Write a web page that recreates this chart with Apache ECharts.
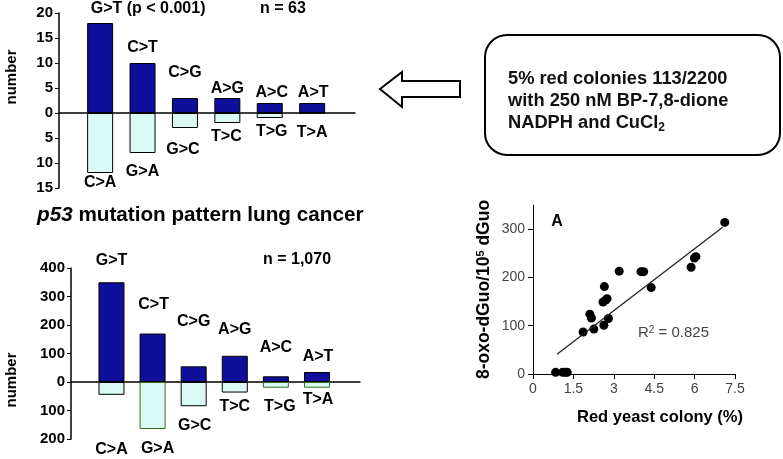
<!DOCTYPE html>
<html><head><meta charset="utf-8">
<script src="https://cdn.jsdelivr.net/npm/echarts@6/dist/echarts.min.js"></script>
<style>html,body{margin:0;padding:0;background:#fff}#c{width:783px;height:459px}</style>
</head><body><div id="c"></div>
<script>
// ---- Yeast mutation pattern (top left) ----
const yeastUpperCats = ['G>T', 'C>T', 'C>G', 'A>G', 'A>C', 'A>T'];
const yeastUpperVals = [18, 10, 3, 3, 2, 2];
const yeastLowerCats = ['C>A', 'G>A', 'G>C', 'T>C', 'T>G', 'T>A'];
const yeastLowerVals = [12, 8, 3, 2, 1, 0];
const yeastPNote = ' (p < 0.001)';
const yeastN = 'n = 63';
// ---- p53 lung cancer pattern (bottom left) ----
const lungUpperCats = ['G>T', 'C>T', 'C>G', 'A>G', 'A>C', 'A>T'];
const lungUpperVals = [350, 170, 55, 92, 20, 35];
const lungLowerCats = ['C>A', 'G>A', 'G>C', 'T>C', 'T>G', 'T>A'];
const lungLowerVals = [45, 165, 85, 37, 20, 20];
const lungN = 'n = 1,070';
// ---- Scatter: red yeast colony vs 8-oxo-dGuo ----
const colonyPct = [0.84, 1.1, 1.2, 1.27, 1.86, 2.11, 2.17, 2.26, 2.63, 2.65, 2.6, 2.7, 2.75, 2.8, 3.2, 4.01, 4.11, 4.39, 5.87, 5.99, 6.05, 7.12];
const oxoDGuo   = [3.5, 3.5, 3.5, 3.5, 87, 124, 116, 93, 101, 181, 149, 153, 156, 115, 213, 212, 212, 179, 221, 240, 243, 314];
const fitX = [0.89, 7.04];
const fitY = [40.8, 304];
const r2Text = '0.825';
const scatterYTicks = [0, 100, 200, 300];

const FONT = '"Liberation Sans", Arial, sans-serif';
const DARK = '#0f0f9b', LIGHT = '#d9faf4', GREEN = '#2e6b1e';

// label offsets (style)
const yUpOff = [[48, -6], [0, -7], [0, -17], [0, -1], [2, -2], [1, -2]];
const yLoOff = [[0, 2], [0, 11], [-2, 14], [-1, 6], [2, 6], [0, 11]];
const lUpOff = [[0, -14], [1, -21], [0, -37], [0, -18], [0, -21], [1, -7]];
const lLoOff = [[0, 47], [5, 12], [1, 11], [0, 6], [4, 11], [1, 4]];
const lungLowerBorder = ['#000', GREEN, '#000', '#000', GREEN, GREEN];

function upperData(vals, cats, offs, first) {
  return vals.map((v, i) => ({
    value: [i, v],
    label: { offset: offs[i], formatter: i === 0 && first ? cats[i] + first : cats[i] }
  }));
}
function lowerData(vals, cats, offs, borders) {
  return vals.map((v, i) => ({
    value: [i, -v],
    itemStyle: borders ? { borderColor: borders[i] } : undefined,
    label: { offset: offs[i], formatter: cats[i] }
  }));
}
const barLabel = (pos) => ({ show: true, position: pos, distance: 0, color: '#000', fontFamily: FONT, fontWeight: 'bold', fontSize: 16 });
const barYAxisLabel = { color: '#000', fontFamily: FONT, fontWeight: 'bold', fontSize: 15, margin: 6, formatter: v => String(Math.abs(v)) };

const chart = echarts.init(document.getElementById('c'), null, { renderer: 'canvas' });
chart.setOption({
  animation: false,
  backgroundColor: '#fff',
  grid: [
    { left: 59, top: 13, width: 296, height: 175 },
    { left: 71, top: 268, width: 289, height: 171 },
    { left: 533, top: 205, width: 202, height: 169 }
  ],
  xAxis: [
    { type: 'value', gridIndex: 0, min: -0.97, max: 6.01, axisLine: { onZero: true, lineStyle: { color: '#000', width: 1.5 } }, axisTick: { show: false }, axisLabel: { show: false }, splitLine: { show: false } },
    { type: 'value', gridIndex: 1, min: -0.985, max: 6.047, axisLine: { onZero: true, lineStyle: { color: '#000', width: 1.5 } }, axisTick: { show: false }, axisLabel: { show: false }, splitLine: { show: false } },
    { type: 'value', gridIndex: 2, min: 0, max: 7.5, interval: 1.5,
      name: 'Red yeast colony (%)', nameLocation: 'middle', nameGap: 35,
      nameTextStyle: { color: '#000', fontFamily: FONT, fontWeight: 'bold', fontSize: 16.5, padding: [0, 0, 0, 52] },
      axisLine: { onZero: false, lineStyle: { color: '#000', width: 1 } },
      axisTick: { length: 5, lineStyle: { color: '#000' } },
      axisLabel: { color: '#444', fontFamily: FONT, fontSize: 14, margin: 8 },
      splitLine: { show: false } }
  ],
  yAxis: [
    { type: 'value', gridIndex: 0, min: -15, max: 20, interval: 5,
      axisLine: { show: true, onZero: false, lineStyle: { color: '#000', width: 1.5 } },
      axisTick: { show: true, length: 4, lineStyle: { color: '#000' } },
      axisLabel: barYAxisLabel, splitLine: { show: false } },
    { type: 'value', gridIndex: 1, min: -200, max: 400, interval: 100,
      axisLine: { show: true, onZero: false, lineStyle: { color: '#000', width: 1.5 } },
      axisTick: { show: true, length: 4, lineStyle: { color: '#000' } },
      axisLabel: barYAxisLabel, splitLine: { show: false } },
    { type: 'value', gridIndex: 2, min: 0, max: 350,
      name: '8-oxo-dGuo/10{sup|5} dGuo', nameLocation: 'middle', nameGap: 40,
      nameTextStyle: { color: '#000', fontFamily: FONT, fontWeight: 'bold', fontSize: 17.5,
        rich: { sup: { fontFamily: FONT, fontWeight: 'bold', fontSize: 11, verticalAlign: 'top', lineHeight: 11, color: '#000' } } },
      axisLine: { show: true, onZero: false, lineStyle: { color: '#000', width: 1 } },
      axisTick: { length: 5, customValues: scatterYTicks, lineStyle: { color: '#000' } },
      axisLabel: { customValues: scatterYTicks, color: '#444', fontFamily: FONT, fontSize: 14, margin: 8 },
      splitLine: { show: false } }
  ],
  series: [
    { type: 'bar', xAxisIndex: 0, yAxisIndex: 0, stack: 'y', barWidth: 26,
      itemStyle: { color: DARK, borderColor: '#000', borderWidth: 1 },
      label: barLabel('top'), data: upperData(yeastUpperVals, yeastUpperCats, yUpOff, yeastPNote) },
    { type: 'bar', xAxisIndex: 0, yAxisIndex: 0, stack: 'y', barWidth: 26,
      itemStyle: { color: LIGHT, borderColor: '#000', borderWidth: 1 },
      label: barLabel('bottom'), data: lowerData(yeastLowerVals, yeastLowerCats, yLoOff) },
    { type: 'bar', xAxisIndex: 1, yAxisIndex: 1, stack: 'l', barWidth: 26,
      itemStyle: { color: DARK, borderColor: '#000', borderWidth: 1 },
      label: barLabel('top'), data: upperData(lungUpperVals, lungUpperCats, lUpOff) },
    { type: 'bar', xAxisIndex: 1, yAxisIndex: 1, stack: 'l', barWidth: 26,
      itemStyle: { color: LIGHT, borderColor: '#000', borderWidth: 1 },
      label: barLabel('bottom'), data: lowerData(lungLowerVals, lungLowerCats, lLoOff, lungLowerBorder) },
    { type: 'scatter', xAxisIndex: 2, yAxisIndex: 2, symbolSize: 9, itemStyle: { color: '#000', opacity: 1 },
      data: colonyPct.map((x, i) => [x, oxoDGuo[i]]) },
    { type: 'line', xAxisIndex: 2, yAxisIndex: 2, symbol: 'none', lineStyle: { color: '#222', width: 1.3 },
      data: fitX.map((x, i) => [x, fitY[i]]) }
  ],
  graphic: [
    { type: 'text', x: 260, y: 9, style: { text: yeastN, fill: '#000', font: 'bold 16px ' + FONT, align: 'left', verticalAlign: 'middle' } },
    { type: 'text', x: 12, y: 77, rotation: Math.PI / 2, style: { text: 'number', fill: '#000', font: 'bold 15px ' + FONT, align: 'center', verticalAlign: 'middle' } },
    { type: 'text', x: 37, y: 215, style: { text: '{i|p53} mutation pattern lung cancer', fill: '#000', fontFamily: FONT, fontWeight: 'bold', fontSize: 20.7, align: 'left', verticalAlign: 'middle',
        rich: { i: { fontFamily: FONT, fontWeight: 'bold', fontStyle: 'italic', fontSize: 20.7, fill: '#000' } } } },
    { type: 'text', x: 263, y: 260, style: { text: lungN, fill: '#000', font: 'bold 16px ' + FONT, align: 'left', verticalAlign: 'middle' } },
    { type: 'text', x: 12, y: 380, rotation: Math.PI / 2, style: { text: 'number', fill: '#000', font: 'bold 15px ' + FONT, align: 'center', verticalAlign: 'middle' } },
    { type: 'polygon', shape: { points: [[380, 89], [402, 72], [402, 81], [460, 81], [460, 97], [402, 97], [402, 107]] },
      style: { fill: '#fff', stroke: '#000', lineWidth: 2 } },
    { type: 'rect', shape: { x: 485, y: 35, width: 295, height: 120, r: 22 }, style: { fill: '#fff', stroke: '#000', lineWidth: 2 } },
    { type: 'text', x: 508, y: 68, style: { text: '5% red colonies 113/2200\nwith 250 nM BP-7,8-dione\nNADPH and CuCl{s|2}', fill: '#111',
        fontFamily: FONT, fontWeight: 'bold', fontSize: 18.3, lineHeight: 22, align: 'left', verticalAlign: 'top',
        rich: { s: { fontFamily: FONT, fontWeight: 'bold', fontSize: 12, lineHeight: 12, verticalAlign: 'bottom', fill: '#111' } } } },
    { type: 'text', x: 557, y: 222, style: { text: 'A', fill: '#000', font: 'bold 16px ' + FONT, align: 'center', verticalAlign: 'middle' } },
    { type: 'text', x: 638, y: 333, style: { text: 'R{sup|2} = ' + r2Text, fill: '#444', fontFamily: FONT, fontSize: 15, align: 'left', verticalAlign: 'middle',
        rich: { sup: { fontFamily: FONT, fontSize: 10, lineHeight: 10, verticalAlign: 'top', fill: '#444' } } } }
  ]
});
</script></body></html>
